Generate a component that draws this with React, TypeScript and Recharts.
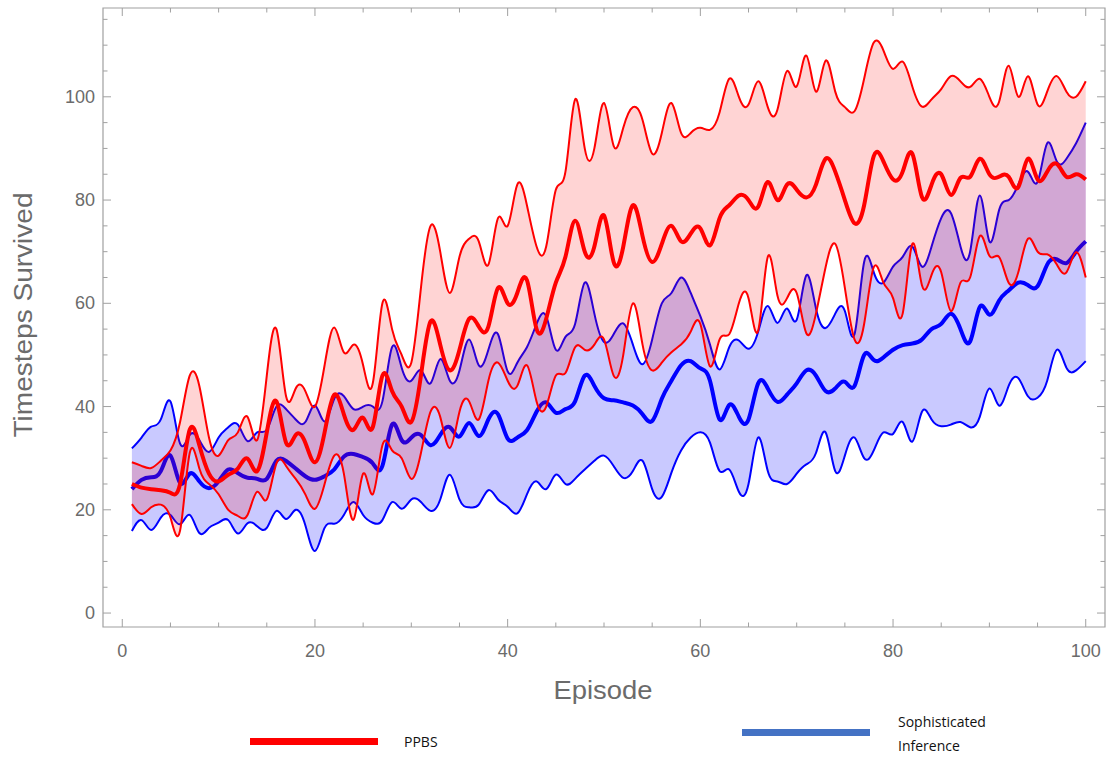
import React from 'react';
import { ComposedChart, Area, Line, XAxis, YAxis, ReferenceArea } from 'recharts';

// episode numbers (x categories)
const EPISODES = Array.from({ length: 100 }, (_, i) => i + 1);

// PPBS (red): upper bound, mean, lower bound
const PPBS_UPPER = [
  29.2, 28.5, 28.1, 29.5, 31.5, 37, 46, 44, 34, 30.5,
  33.5, 35, 38, 33.5, 46, 55, 42, 43.5, 43, 40,
  48, 55.3, 50.5, 52, 48, 44.5, 60, 55, 50, 48.5,
  63, 75, 70, 62, 69, 72.5, 72, 67.5, 76.5, 75,
  83, 79, 71, 71, 82, 85.5, 99.5, 90, 90, 98.8,
  90.5, 94, 98, 95.5, 89, 93, 98.8, 93, 93, 94,
  93.6, 97, 103.5, 100, 98.5, 103, 98, 97.5, 105, 102,
  108, 101, 107, 101, 98, 97.2, 103.5, 110.5, 109, 105.4,
  106.8, 102, 98.1, 99.5, 101.5, 104, 103, 101.9, 103.5, 100,
  99, 106, 100, 104, 98.5, 101, 104, 101, 100, 103,
];
const PPBS_MEAN = [
  25, 24.3, 24, 23.8, 23.3, 25, 35.5, 32.5, 27, 25.5,
  26.8, 28, 29.9, 27.5, 35, 41, 33, 34.5, 33, 29.2,
  35, 42.3, 38.5, 35.5, 37.8, 36, 46, 43, 40, 37,
  46, 56.5, 52, 47, 51, 57, 55.5, 55.5, 63, 60,
  62, 64.5, 55, 57, 64, 69, 76, 70, 71, 77,
  68, 71, 79, 73, 68, 71.5, 75, 72, 73.5, 74.5,
  71.2, 76.5, 79, 80.9, 80, 78.7, 83.5, 80, 83, 82,
  80.5, 83, 88, 85.5, 80, 75.5, 79, 88.5, 87.5, 84,
  85.5, 89, 80.6, 83, 85, 81, 84.3, 84.5, 88, 85,
  84.5, 84.5, 82.5, 88, 84, 85.5, 87, 84.5, 85, 84,
];
const PPBS_LOWER = [
  21.1, 19.2, 20.5, 21, 18.5, 16, 31, 28, 25, 23,
  20, 18.8, 19, 23.5, 22, 29, 28.5, 26, 23, 20.2,
  25, 30.5, 27, 18.1, 27, 23, 32.5, 31.5, 30, 26,
  31, 39, 38, 32, 39, 41, 37.5, 45, 48.5, 45,
  44, 48, 41, 40, 46, 46.5, 51.5, 51, 52, 53,
  46, 50, 60, 52, 47, 48.5, 50.5, 52, 54.5, 56,
  47.8, 53, 54, 60, 61, 54.7, 69, 61.5, 61, 62,
  54.2, 58, 67, 71.5, 63, 53, 56, 67, 64, 61,
  58, 71.5, 63.5, 65.5, 66, 58.5, 64, 65, 73, 69.2,
  69, 64, 66, 72.5, 70, 69.5, 67.5, 66, 69.9, 65,
];

// Sophisticated Inference (blue): upper bound, mean, lower bound
const SI_UPPER = [
  31.9, 34, 36.1, 37.5, 41, 32.8, 34.5, 33.5, 31.2, 34,
  36, 36.5, 33.3, 35, 35.5, 40, 39.5, 37.5, 37, 40.2,
  37.1, 41.5, 42, 39.5, 40, 40, 41, 51.5, 47.5, 45,
  47, 44.5, 49.2, 45, 47, 53, 48, 51, 54, 46.8,
  48.5, 51.5, 56, 57.5, 51, 53.5, 56, 64, 58, 52.5,
  54, 56.1, 52, 48.2, 53, 60, 62, 65, 62, 57.5,
  52, 47.2, 51.5, 52.8, 51.2, 54.5, 59.5, 56.2, 59, 56.8,
  65.4, 59, 55.2, 58, 58.5, 54, 68, 66, 64, 67.1,
  69, 71, 67.1, 71, 76.5, 77.5, 71, 70, 80.9, 72,
  78, 80, 83, 85.5, 83.5, 91, 87.5, 88, 91, 95,
];
const SI_MEAN = [
  24, 25.8, 26.3, 27.5, 30.5, 25.2, 27, 25.5, 24.2, 25.5,
  27.8, 27.1, 26.2, 26, 26, 29.5, 29.5, 28, 26.5, 25.8,
  26.5, 27.8, 30.3, 30.8, 30.2, 29, 28.5, 36.5, 33.5, 34,
  34.5, 32.5, 34.5, 36, 34.2, 36.8, 34.3, 37.5, 38.5, 33.8,
  34, 35.4, 39, 40.8, 38.8, 39.5, 41, 46, 44, 41.6,
  41.2, 40.8, 40.2, 38.5, 37.2, 41.5, 45, 48, 48.8, 47.4,
  45, 37.5, 40.3, 38, 37.5, 44.5, 43.5, 40.9, 42.3, 44.5,
  47, 46, 43, 43.5, 44.8, 44, 50, 49, 49.5, 51,
  51.9, 52.2, 53, 55, 56, 58, 55, 52.6, 59.3, 57.8,
  60.5, 62.5, 64, 63.5, 63.3, 67.5, 68.5, 67.8, 70, 72,
];
const SI_LOWER = [
  15.9, 18, 16.1, 18.5, 19, 17.2, 19, 15.5, 16.5, 17.5,
  18, 15.4, 17.4, 16.8, 16.5, 19.8, 18.2, 20, 17, 12,
  16.5, 17.3, 19, 21.5, 19, 17.5, 18, 21.5, 20.2, 22,
  21.5, 19.8, 22, 26.8, 22, 20.5, 21, 23.8, 22, 20.6,
  19.3, 23, 25.5, 24, 26.8, 25, 26, 27.8, 29.5, 30.5,
  28.5, 26.2, 27.5, 29.5, 24, 22.5, 27.2, 31.5, 34, 35,
  33, 27.5, 27.8, 23.5, 25, 34, 27.5, 25.5, 25, 27,
  28.8, 31, 35, 27.5, 30.5, 34, 30, 31.5, 35, 34.7,
  37, 33.2, 39, 37.5, 36.2, 36.5, 37, 36, 38, 43.5,
  40.2, 44, 45.5, 42, 41.7, 45, 51, 47.5, 47, 48.8,
];

const X_TICKS = [0, 5, 10, 15, 20, 25, 30, 35, 40, 45, 50, 55, 60, 65, 70, 75, 80, 85, 90, 95, 100];
const Y_TICKS = [0, 5, 10, 15, 20, 25, 30, 35, 40, 45, 50, 55, 60, 65, 70, 75, 80, 85, 90, 95, 100, 105, 110, 115];
const X_DOMAIN = [-2, 102];
const Y_DOMAIN = [-2.7, 117.2];

const data = EPISODES.map((ep, i) => ({
  ep,
  redBand: [PPBS_LOWER[i], PPBS_UPPER[i]],
  redUpper: PPBS_UPPER[i],
  redMean: PPBS_MEAN[i],
  redLower: PPBS_LOWER[i],
  blueBand: [SI_LOWER[i], SI_UPPER[i]],
  blueUpper: SI_UPPER[i],
  blueMean: SI_MEAN[i],
  blueLower: SI_LOWER[i],
}));

const W = 1110;
const H = 757;
const PLOT_LEFT = 103;
const PLOT_RIGHT = 1105;
const PLOT_TOP = 8;
const PLOT_BOTTOM = 627;
const FRAME = '#a0a0a0';
const LABEL = '#6b6b6b';
const FONT = '"Liberation Sans", Arial, sans-serif';
const CURVE = 'natural';

const XTick = (props: any) => {
  const { x, payload } = props;
  const major = payload.value % 20 === 0;
  const len = major ? 8 : 4.5;
  return (
    <g>
      <line x1={x} x2={x} y1={PLOT_BOTTOM} y2={PLOT_BOTTOM - len} stroke={FRAME} strokeWidth={1} />
      <line x1={x} x2={x} y1={PLOT_TOP} y2={PLOT_TOP + len} stroke={FRAME} strokeWidth={1} />
      {major && (
        <text x={x} y={PLOT_BOTTOM + 30} textAnchor="middle" fill={LABEL} fontSize={18} fontFamily={FONT}>
          {payload.value}
        </text>
      )}
    </g>
  );
};

const YTick = (props: any) => {
  const { y, payload } = props;
  const major = payload.value % 20 === 0;
  const len = major ? 8 : 4.5;
  return (
    <g>
      <line x1={PLOT_LEFT} x2={PLOT_LEFT + len} y1={y} y2={y} stroke={FRAME} strokeWidth={1} />
      <line x1={PLOT_RIGHT} x2={PLOT_RIGHT - len} y1={y} y2={y} stroke={FRAME} strokeWidth={1} />
      {major && payload.value <= 100 && (
        <text x={PLOT_LEFT - 8} y={y + 6} textAnchor="end" fill={LABEL} fontSize={18} fontFamily={FONT}>
          {payload.value}
        </text>
      )}
    </g>
  );
};

export default function App() {
  return (
    <div style={{ position: 'absolute', left: 0, top: 0, width: W, height: H, background: '#fff' }}>
      <ComposedChart
        width={W}
        height={H}
        data={data}
        margin={{ top: PLOT_TOP, right: W - PLOT_RIGHT, left: 40, bottom: 13 }}
      >
        <XAxis
          dataKey="ep"
          type="number"
          domain={X_DOMAIN}
          ticks={X_TICKS}
          interval={0}
          allowDataOverflow
          axisLine={false}
          tickLine={false}
          height={H - 13 - PLOT_BOTTOM}
          tick={(p: any) => <XTick {...p} />}
          label={() => (
            <text
              x={603}
              y={699}
              textAnchor="middle"
              fill={LABEL}
              fontSize={25}
              fontFamily={FONT}
              textLength={99}
              lengthAdjust="spacingAndGlyphs"
            >
              Episode
            </text>
          )}
        />
        <YAxis
          type="number"
          domain={Y_DOMAIN}
          ticks={Y_TICKS}
          interval={0}
          allowDataOverflow
          axisLine={false}
          tickLine={false}
          width={PLOT_LEFT - 40}
          tick={(p: any) => <YTick {...p} />}
          label={() => (
            <text
              x={32}
              y={315}
              transform="rotate(-90 32 315)"
              textAnchor="middle"
              fill={LABEL}
              fontSize={25}
              fontFamily={FONT}
              textLength={245}
              lengthAdjust="spacingAndGlyphs"
            >
              Timesteps Survived
            </text>
          )}
        />
        <ReferenceArea
          x1={X_DOMAIN[0]}
          x2={X_DOMAIN[1]}
          y1={Y_DOMAIN[0]}
          y2={Y_DOMAIN[1]}
          fill="none"
          stroke={FRAME}
          strokeWidth={1.2}
          ifOverflow="visible"
        />
        <Area zIndex={100} dataKey="blueBand" type={CURVE} stroke="none" fill="#0000ff" fillOpacity={0.21} isAnimationActive={false} activeDot={false} />
        <Line zIndex={150} dataKey="blueUpper" type={CURVE} stroke="#0000ff" strokeWidth={2} dot={false} activeDot={false} isAnimationActive={false} />
        <Line zIndex={150} dataKey="blueLower" type={CURVE} stroke="#0000ff" strokeWidth={2} dot={false} activeDot={false} isAnimationActive={false} />
        <Line zIndex={150} dataKey="blueMean" type={CURVE} stroke="#0000ff" strokeWidth={4} dot={false} activeDot={false} isAnimationActive={false} />
        <Area zIndex={200} dataKey="redBand" type={CURVE} stroke="none" fill="#ff0000" fillOpacity={0.17} isAnimationActive={false} activeDot={false} />
        <Line zIndex={400} dataKey="redUpper" type={CURVE} stroke="#ff0000" strokeWidth={2} dot={false} activeDot={false} isAnimationActive={false} />
        <Line zIndex={400} dataKey="redLower" type={CURVE} stroke="#ff0000" strokeWidth={2} dot={false} activeDot={false} isAnimationActive={false} />
        <Line zIndex={400} dataKey="redMean" type={CURVE} stroke="#ff0000" strokeWidth={4} dot={false} activeDot={false} isAnimationActive={false} />
      </ComposedChart>

      <div style={{ position: 'absolute', left: 250, top: 738, width: 128, height: 7, background: '#ff0000' }} />
      <div style={{ position: 'absolute', left: 404, top: 732, fontFamily: 'Open Sans, Noto Sans, sans-serif', fontSize: 14, color: '#111' }}>
        PPBS
      </div>
      <div style={{ position: 'absolute', left: 742, top: 729, width: 128, height: 7, background: '#4472c4' }} />
      <div style={{ position: 'absolute', left: 898, top: 710, fontFamily: 'Open Sans, Noto Sans, sans-serif', fontSize: 14, lineHeight: '24px', color: '#111' }}>
        Sophisticated
        <br />
        Inference
      </div>
    </div>
  );
}
